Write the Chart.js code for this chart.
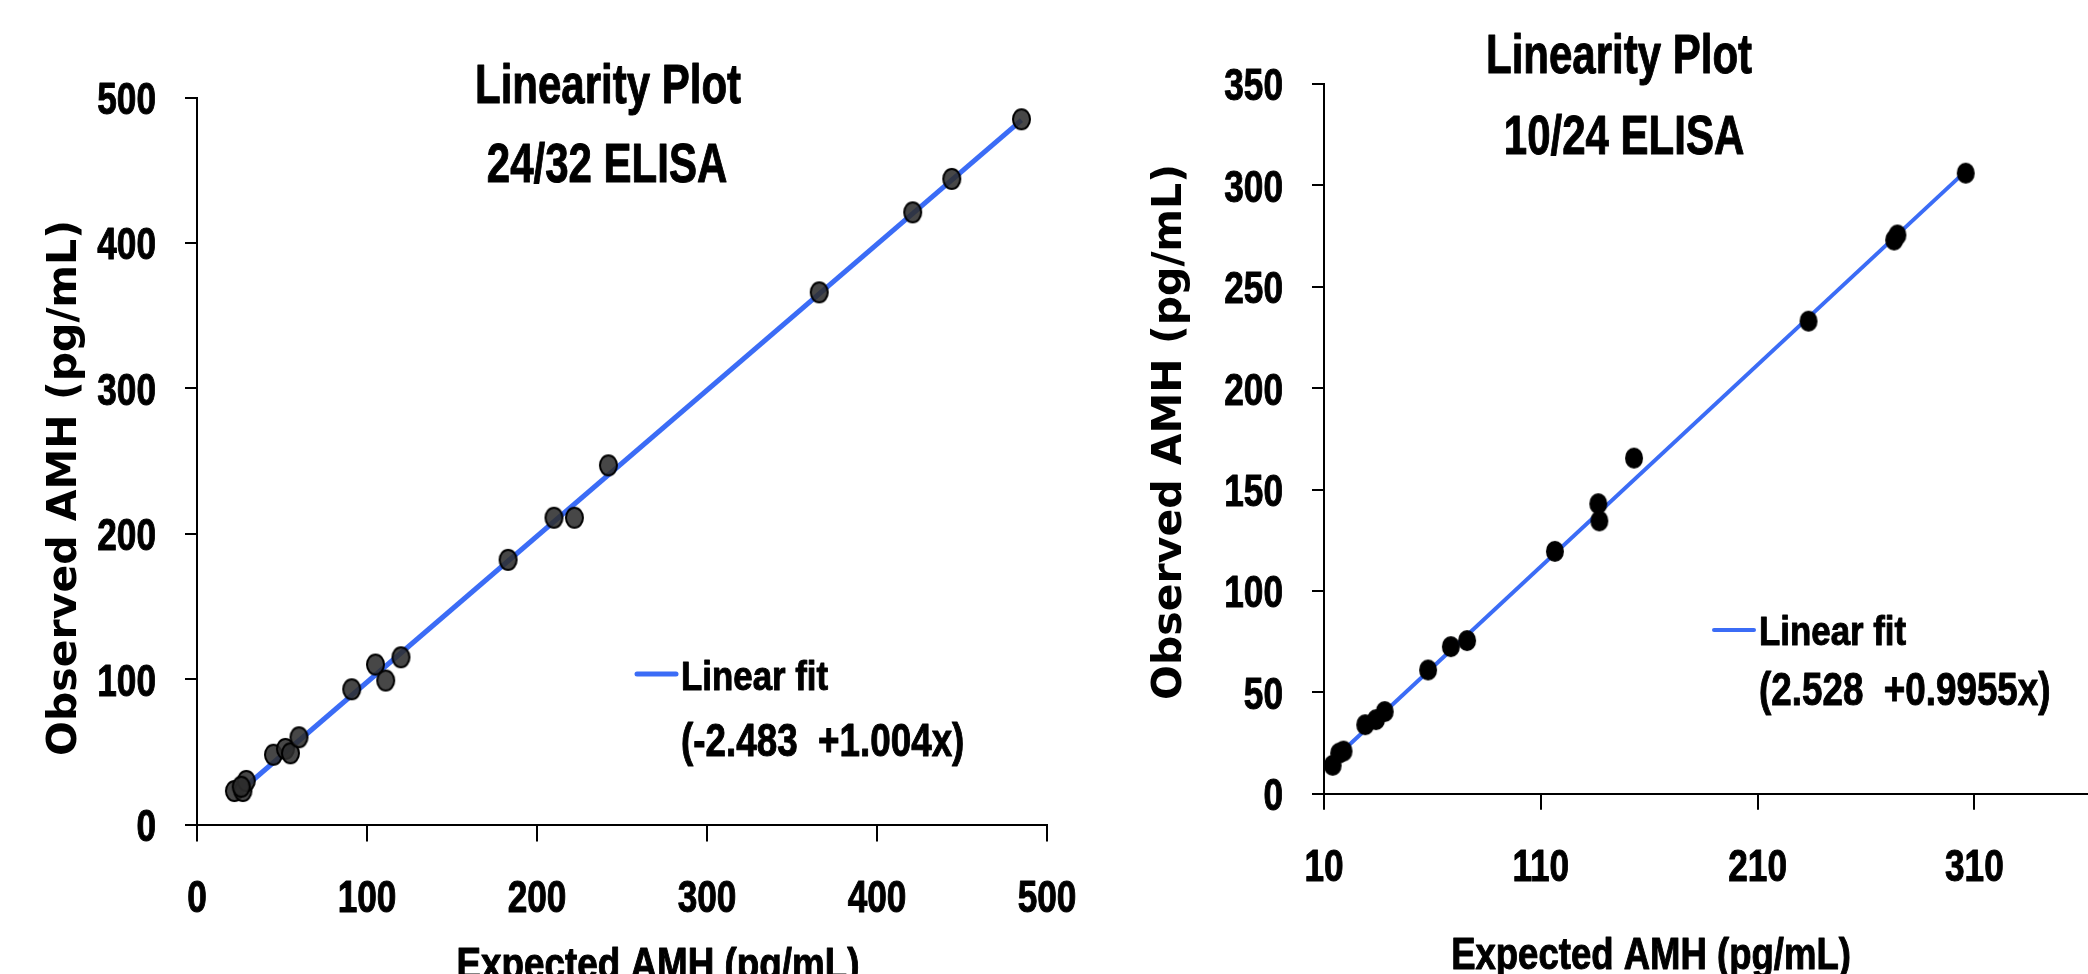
<!DOCTYPE html>
<html>
<head>
<meta charset="utf-8">
<script src="https://cdn.jsdelivr.net/npm/chart.js@4.4.1/dist/chart.umd.min.js"></script>
<style>
  html, body { margin: 0; padding: 0; background: #fff; }
  #wrap { position: relative; width: 2088px; height: 974px; overflow: hidden; }
  .box { position: absolute; top: 0; height: 974px; }
</style>
</head>
<body>
<div id="wrap">
  <div class="box" style="left:0;width:1100px"><canvas id="left" width="1100" height="974"></canvas></div>
  <div class="box" style="left:1100px;width:988px"><canvas id="right" width="988" height="974"></canvas></div>
</div>
<script>
// ---- data: 24/32 ELISA (left) ----
const leftExpected = [22, 27, 29, 26, 45, 52, 55, 60, 91, 105, 111, 120, 183, 210, 222, 242, 366, 421, 444, 485];
const leftObserved = [23, 23, 30, 26, 48, 52, 49, 60, 93, 110, 99, 115, 182, 211, 211, 247, 366, 421, 444, 485];
const leftFitX = [27, 485];
const leftFitY = [24.6, 484.5];
const leftXTicks = [0, 100, 200, 300, 400, 500];
const leftYTicks = [0, 100, 200, 300, 400, 500];

// ---- data: 10/24 ELISA (right) ----
const rightExpected = [14, 17, 19, 29, 34, 38, 58, 68.5, 76, 116.5, 136.5, 137, 153, 233.5, 273, 274.5, 306];
const rightObserved = [14, 20, 21, 34, 36.5, 40.5, 61, 72.5, 75.5, 119.5, 143, 134.5, 165.5, 233, 273, 275.5, 306];
const rightFitX = [14, 306];
const rightFitY = [16.5, 307];
const rightXTicks = [10, 110, 210, 310];
const rightYTicks = [0, 50, 100, 150, 200, 250, 300, 350];

// the source uses a narrow bold face; Liberation Sans squeezed sideways stands in for it
const FACE = "'Liberation Sans', Arial, sans-serif";
const WIDE = "'DejaVu Sans', Verdana, sans-serif";
const BLUE = '#3b6cf6';

function ellipseDot(rx, ry, fill, stroke, lw) {
  const c = document.createElement('canvas');
  c.width = Math.ceil(2 * rx + lw + 2);
  c.height = Math.ceil(2 * ry + lw + 2);
  const g = c.getContext('2d');
  g.beginPath();
  g.ellipse(c.width / 2, c.height / 2, rx, ry, 0, 0, 2 * Math.PI);
  g.fillStyle = fill;
  g.fill();
  if (lw) { g.lineWidth = lw; g.strokeStyle = stroke; g.stroke(); }
  return c;
}

function pairs(xs, ys) {
  return xs.map((x, i) => ({x: x, y: ys[i]}));
}

function squish(ctx, text, x, y, font, sx, align, rot, heavy) {
  ctx.save();
  ctx.font = font;
  ctx.textAlign = align || 'center';
  ctx.textBaseline = 'alphabetic';
  ctx.translate(x, y);
  if (rot) ctx.rotate(rot);
  ctx.scale(sx, 1);
  ctx.fillText(text, 0, 0);
  if (heavy) {
    ctx.lineWidth = heavy;
    ctx.strokeStyle = '#000';
    ctx.lineJoin = 'round';
    ctx.strokeText(text, 0, 0);
  }
  ctx.restore();
}

// tick labels, titles and the legend are drawn here so the narrow face can be imitated
const textPlugin = {
  id: 'texts',
  afterDraw(chart, args, opts) {
    const ctx = chart.ctx;
    const xs = chart.scales.x, ys = chart.scales.y;
    ctx.save();
    ctx.fillStyle = '#000';
    const tickFont = 'bold 44px ' + FACE;
    xs.ticks.forEach(t => {
      squish(ctx, t.label, xs.getPixelForValue(t.value), xs.top + 87, tickFont, 0.8, 'center', 0, 1);
    });
    ys.ticks.forEach(t => {
      squish(ctx, t.label, ys.right - 41, ys.getPixelForValue(t.value) + 16.5, tickFont, 0.8, 'right', 0, 1);
    });
    for (const t of opts.items) {
      squish(ctx, t.text, t.x, t.y, t.font, t.sx || 1, 'center', t.rotate, t.sx ? 1 : 0);
    }
    const lg = opts.legend;
    const fit = chart.data.datasets[1];
    ctx.strokeStyle = fit.borderColor;
    ctx.lineWidth = lg.lineWidth;
    ctx.lineCap = 'round';
    ctx.beginPath();
    ctx.moveTo(lg.x0, lg.y);
    ctx.lineTo(lg.x1, lg.y);
    ctx.stroke();
    squish(ctx, fit.label, lg.tx, lg.b1, 'bold 41px ' + FACE, 0.85, 'left', 0, 1);
    squish(ctx, lg.eq, lg.tx, lg.b2, 'bold 46px ' + FACE, 0.8, 'left', 0, 1);
    ctx.restore();
  }
};

function axisCfg(min, max, tickVals, tickLen, size) {
  return {
    type: 'linear',
    min: min,
    max: max,
    afterBuildTicks: s => { s.ticks = tickVals.map(v => ({value: v})); },
    afterFit: s => {
      if (s.isHorizontal()) s.height = size; else s.width = size;
      s.paddingLeft = s.paddingRight = s.paddingTop = s.paddingBottom = 0;
    },
    grid: {drawOnChartArea: false, drawTicks: true, tickLength: tickLen, color: '#000', lineWidth: 2},
    border: {display: true, color: '#000', width: 2},
    ticks: {display: false},
    title: {display: false}
  };
}

new Chart(document.getElementById('left').getContext('2d'), {
  type: 'scatter',
  data: {
    datasets: [
      {
        label: 'Data',
        data: pairs(leftExpected, leftObserved),
        pointStyle: ellipseDot(8.5, 10, 'rgba(45,45,45,0.88)', '#000', 2),
        pointRadius: 10
      },
      {
        label: 'Linear fit',
        data: pairs(leftFitX, leftFitY),
        showLine: true,
        pointRadius: 0,
        borderColor: BLUE,
        borderWidth: 5
      }
    ]
  },
  options: {
    responsive: false,
    animation: false,
    layout: {autoPadding: false, padding: {top: 97.5, right: 53, left: 0, bottom: 0}},
    scales: {
      x: axisCfg(0, 500, leftXTicks, 17, 149.5),
      y: axisCfg(0, 500, leftYTicks, 12, 197)
    },
    plugins: {
      legend: {display: false},
      title: {display: false},
      tooltip: {enabled: false},
      texts: {
        items: [
          {text: 'Linearity Plot', x: 608, y: 103, font: 'bold 56px ' + FACE, sx: 0.75},
          {text: '24/32 ELISA', x: 607, y: 182, font: 'bold 56px ' + FACE, sx: 0.75},
          {text: 'Observed AMH (pg/mL)', x: 76, y: 488, rotate: -Math.PI / 2, font: 'bold 41px ' + WIDE},
          {text: 'Expected AMH (pg/mL)', x: 658, y: 979, font: 'bold 44px ' + FACE, sx: 0.837}
        ],
        legend: {x0: 637, x1: 676, y: 674, lineWidth: 5, tx: 681, b1: 690, b2: 756, eq: '(-2.483  +1.004x)'}
      }
    }
  },
  plugins: [textPlugin]
});

new Chart(document.getElementById('right').getContext('2d'), {
  type: 'scatter',
  data: {
    datasets: [
      {
        label: 'Data',
        data: pairs(rightExpected, rightObserved),
        pointStyle: ellipseDot(9, 10.5, '#000', '#000', 0),
        pointRadius: 10
      },
      {
        label: 'Linear fit',
        data: pairs(rightFitX, rightFitY),
        showLine: true,
        pointRadius: 0,
        borderColor: BLUE,
        borderWidth: 4
      }
    ]
  },
  options: {
    responsive: false,
    animation: false,
    layout: {autoPadding: false, padding: {top: 83.9, right: 0, left: 0, bottom: 0}},
    scales: {
      x: axisCfg(10, 362.4, rightXTicks, 16, 180.3),
      y: axisCfg(0, 350, rightYTicks, 12, 224)
    },
    plugins: {
      legend: {display: false},
      title: {display: false},
      tooltip: {enabled: false},
      texts: {
        items: [
          {text: 'Linearity Plot', x: 519, y: 73, font: 'bold 56px ' + FACE, sx: 0.75},
          {text: '10/24 ELISA', x: 524, y: 154, font: 'bold 56px ' + FACE, sx: 0.75},
          {text: 'Observed AMH (pg/mL)', x: 81, y: 432, rotate: -Math.PI / 2, font: 'bold 41px ' + WIDE},
          {text: 'Expected AMH (pg/mL)', x: 551, y: 969, font: 'bold 44px ' + FACE, sx: 0.83}
        ],
        legend: {x0: 614, x1: 654, y: 630, lineWidth: 4, tx: 659, b1: 645, b2: 705, eq: '(2.528  +0.9955x)'}
      }
    }
  },
  plugins: [textPlugin]
});
</script>
</body>
</html>
